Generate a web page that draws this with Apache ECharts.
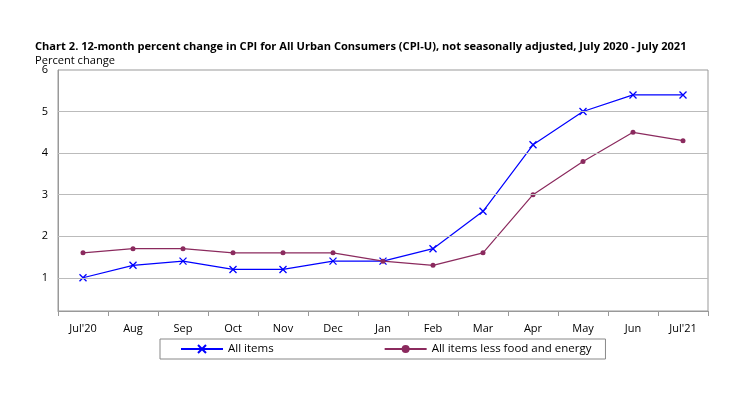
<!DOCTYPE html>
<html><head><meta charset="utf-8">
<script src="https://cdn.jsdelivr.net/npm/echarts@6/dist/echarts.min.js"></script>
<style>html,body{margin:0;padding:0;background:#fff}#c{width:744px;height:414px}</style>
</head><body><div id="c"></div>
<script>
const categories = ["Jul'20","Aug","Sep","Oct","Nov","Dec","Jan","Feb","Mar","Apr","May","Jun","Jul'21"];
const allItems = [1.0,1.3,1.4,1.2,1.2,1.4,1.4,1.7,2.6,4.2,5.0,5.4,5.4];
const core = [1.6,1.7,1.7,1.6,1.6,1.6,1.4,1.3,1.6,3.0,3.8,4.5,4.3];
const gridValues = [1,2,3,4,5];
const font = "'Open Sans', 'DejaVu Sans', sans-serif";
const chart = echarts.init(document.getElementById('c'));
chart.setOption({
  animation:false,
  textStyle:{fontFamily:font},
  title:[
    {text:'Chart 2. 12-month percent change in CPI for All Urban Consumers (CPI-U), not seasonally adjusted, July 2020 - July 2021',left:30,top:36,textStyle:{fontSize:11.1,fontWeight:'bold',color:'#000',fontFamily:font}},
    {text:'Percent change',left:30,top:50,textStyle:{fontSize:11.1,fontWeight:'normal',color:'#000',fontFamily:font}}
  ],
  grid:{left:58,right:36,top:70,bottom:103,show:true,borderColor:'#999',borderWidth:1},
  legend:{bottom:55,left:160,itemGap:110,borderColor:'#888',borderWidth:1,padding:[4,14,4,20],itemWidth:42,itemHeight:10,textStyle:{fontSize:11.5,color:'#000',fontFamily:font},
    data:['All items','All items less food and energy']},
  xAxis:{type:'category',data:categories,boundaryGap:true,axisLine:{lineStyle:{color:'#999'}},axisTick:{show:true,lineStyle:{color:'#999'}},axisLabel:{color:'#000',fontSize:11,margin:12}},
  yAxis:{type:'value',min:0.2,max:6,interval:0.2,axisLine:{show:true,lineStyle:{color:'#999'}},axisTick:{show:false},splitLine:{show:false},
    axisLabel:{color:'#000',fontSize:11,margin:10,formatter:v=>Math.abs(v-Math.round(v))<1e-6?String(Math.round(v)):''}},
  series:[
    {name:'All items',type:'line',data:allItems,color:'#0000ff',symbol:'path://M0,0L10,10M10,0L0,10',symbolSize:7,lineStyle:{width:1.2,color:'#0000ff'},itemStyle:{color:'#0000ff',borderColor:'#0000ff',borderWidth:1.3},
      markLine:{silent:true,symbol:'none',label:{show:false},lineStyle:{color:'#bbb',type:'solid',width:1},data:gridValues.map(v=>({yAxis:v}))}},
    {name:'All items less food and energy',type:'line',data:core,color:'#8b2a5e',symbol:'circle',symbolSize:5,lineStyle:{width:1.2,color:'#8b2a5e'},itemStyle:{color:'#8b2a5e'}}
  ]
});
</script></body></html>
